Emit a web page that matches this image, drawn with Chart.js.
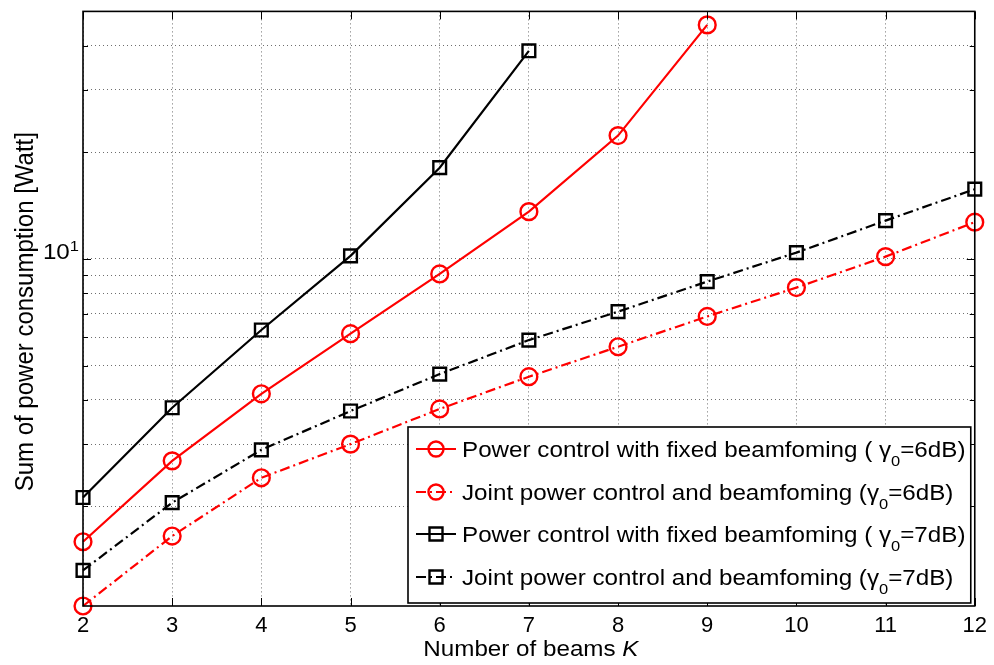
<!DOCTYPE html>
<html>
<head>
<meta charset="utf-8">
<script src="https://cdn.jsdelivr.net/npm/chart.js@4.4.0/dist/chart.umd.min.js"></script>
<style>
  html, body { margin: 0; padding: 0; background: #ffffff; }
  #wrap { width: 994px; height: 665px; }
</style>
</head>
<body>
<div id="wrap"><canvas id="chart" width="994" height="665"></canvas></div>
<script>
// Number of beams K (x axis)
const beams = [2, 3, 4, 5, 6, 7, 8, 9, 10, 11, 12];

// Sum of power consumption [Watt]
const fixedBeam6dB = [1.59, 2.69, 4.16, 6.15, 9.07, 13.6, 22.3, 45.8];
const jointBeam6dB = [1.047, 1.65, 2.41, 3.00, 3.77, 4.65, 5.65, 6.88, 8.30, 10.15, 12.7];
const fixedBeam7dB = [2.12, 3.80, 6.30, 10.2, 18.1, 38.7];
const jointBeam7dB = [1.32, 2.05, 2.89, 3.72, 4.73, 5.90, 7.10, 8.63, 10.42, 12.83, 15.74];

// Legend texts ("_" marks a one-character subscript)
const seriesLabels = [
  'Power control with fixed beamfoming ( \u03b3_0=6dB)',
  'Joint power control and beamfoming (\u03b3_0=6dB)',
  'Power control with fixed beamfoming ( \u03b3_0=7dB)',
  'Joint power control and beamfoming (\u03b3_0=7dB)'
];

// Log-scale grid values and y range
const yGridValues = [2, 3, 4, 5, 6, 7, 8, 9, 10, 20, 30, 40];
const yMin = 1.047;
const yMax = 50;

const FONT = '"Liberation Sans", Arial, Helvetica, sans-serif';
const STRETCH = 1.1;
const RED = '#ff0000';
const BLACK = '#000000';
const DASH_DOT = [10, 4, 2, 4];

function toPoints(values) {
  return values.map((v, i) => ({ x: beams[i], y: v }));
}

function series(label, values, color, style, dashed) {
  return {
    label: label,
    data: toPoints(values),
    borderColor: color,
    borderWidth: 2.2,
    borderDash: dashed ? DASH_DOT : [],
    pointStyle: style,
    pointRadius: style === 'rect' ? 9 : 8.4,
    pointHoverRadius: style === 'rect' ? 9 : 8.4,
    pointBorderWidth: 2.4,
    pointBorderColor: color,
    pointBackgroundColor: 'rgba(0,0,0,0)',
    fill: false,
    tension: 0,
    clip: false
  };
}

const datasets = [
  series(seriesLabels[0], fixedBeam6dB, RED, 'circle', false),
  series(seriesLabels[1], jointBeam6dB, RED, 'circle', true),
  series(seriesLabels[2], fixedBeam7dB, BLACK, 'rect', false),
  series(seriesLabels[3], jointBeam7dB, BLACK, 'rect', true)
];

// Split "abc_0def" into normal / subscript runs
function richParts(str) {
  const chunks = str.split('_');
  const parts = [{ t: chunks[0], kind: 'n' }];
  for (let i = 1; i < chunks.length; i++) {
    parts.push({ t: chunks[i].charAt(0), kind: 'sub' });
    if (chunks[i].length > 1) parts.push({ t: chunks[i].slice(1), kind: 'n' });
  }
  return parts;
}

function partFont(p, size) {
  if (p.kind === 'sub' || p.kind === 'sup') return Math.round(size * 0.7) + 'px ' + FONT;
  if (p.kind === 'it') return 'italic ' + size + 'px ' + FONT;
  return size + 'px ' + FONT;
}

function partsWidth(ctx, parts, size) {
  let w = 0;
  parts.forEach(p => { ctx.font = partFont(p, size); w += ctx.measureText(p.t).width; });
  return w;
}

// Draws runs of text on a baseline, horizontally stretched
function drawParts(ctx, parts, x, y, size, align) {
  const w = partsWidth(ctx, parts, size) * STRETCH;
  let x0 = x;
  if (align === 'center') x0 = x - w / 2;
  else if (align === 'right') x0 = x - w;
  ctx.save();
  ctx.translate(x0, y);
  ctx.scale(STRETCH, 1);
  ctx.textBaseline = 'alphabetic';
  ctx.textAlign = 'left';
  let cx = 0;
  parts.forEach(p => {
    ctx.font = partFont(p, size);
    let dy = 0;
    if (p.kind === 'sub') dy = size * 0.42;
    if (p.kind === 'sup') dy = -size * 0.38;
    ctx.fillText(p.t, cx, dy);
    cx += ctx.measureText(p.t).width;
  });
  ctx.restore();
}

function strokeLine(ctx, x1, y1, x2, y2) {
  ctx.beginPath();
  ctx.moveTo(x1, y1);
  ctx.lineTo(x2, y2);
  ctx.stroke();
}

const decorations = {
  id: 'decorations',
  afterDraw(chart) {
    const ctx = chart.ctx;
    const a = chart.chartArea;
    const xs = chart.scales.x;
    const ys = chart.scales.y;
    ctx.save();
    ctx.fillStyle = BLACK;
    ctx.strokeStyle = BLACK;

    // inward tick marks on all four sides
    ctx.lineWidth = 1;
    beams.forEach(v => {
      const px = Math.round(xs.getPixelForValue(v)) + 0.5;
      strokeLine(ctx, px, a.bottom, px, a.bottom - 8);
      strokeLine(ctx, px, a.top, px, a.top + 8);
    });
    yGridValues.forEach(v => {
      const py = Math.round(ys.getPixelForValue(v)) + 0.5;
      const len = v === 10 ? 8 : 5;
      strokeLine(ctx, a.left, py, a.left + len, py);
      strokeLine(ctx, a.right, py, a.right - len, py);
    });

    // axes box
    ctx.lineWidth = 1.6;
    ctx.strokeRect(a.left, a.top, a.right - a.left, a.bottom - a.top);

    // decade label on the log axis
    const p10 = ys.getPixelForValue(10);
    drawParts(ctx, [{ t: '10', kind: 'n' }, { t: '1', kind: 'sup' }], a.left - 4, p10 + 0.5, 22, 'right');

    // axis titles
    drawParts(ctx, [{ t: 'Number of beams ', kind: 'n' }, { t: 'K', kind: 'it' }],
      (a.left + a.right) / 2 + 2, 656, 22, 'center');

    ctx.save();
    ctx.translate(33, (a.top + a.bottom) / 2 + 3);
    ctx.scale(STRETCH, 1);
    ctx.rotate(-Math.PI / 2);
    ctx.font = '24px ' + FONT;
    ctx.textAlign = 'center';
    ctx.textBaseline = 'alphabetic';
    ctx.fillText('Sum of power consumption [Watt]', 0, 0);
    ctx.restore();

    // legend
    const lx = 408, ly = 427, lw = a.right - 4 - lx, lh = 176;
    ctx.fillStyle = '#ffffff';
    ctx.fillRect(lx, ly, lw, lh);
    ctx.lineWidth = 1.6;
    ctx.strokeStyle = BLACK;
    ctx.strokeRect(lx, ly, lw, lh);
    const rowY = [449, 492, 534, 577];
    chart.data.datasets.forEach((ds, i) => {
      const cy = rowY[i];
      ctx.save();
      ctx.strokeStyle = ds.borderColor;
      ctx.lineWidth = 2.2;
      ctx.setLineDash(ds.borderDash || []);
      strokeLine(ctx, lx + 8, cy, lx + 48, cy);
      ctx.setLineDash([]);
      ctx.lineWidth = 2.4;
      ctx.beginPath();
      if (ds.pointStyle === 'circle') {
        ctx.arc(lx + 28, cy, 7.5, 0, Math.PI * 2);
      } else {
        ctx.rect(lx + 28 - 6.5, cy - 6.5, 13, 13);
      }
      ctx.stroke();
      ctx.restore();
      ctx.fillStyle = BLACK;
      drawParts(ctx, richParts(ds.label), lx + 54, cy + 8, 22, 'left');
    });

    ctx.restore();
  }
};

new Chart(document.getElementById('chart'), {
  type: 'line',
  data: { datasets: datasets },
  plugins: [decorations],
  options: {
    responsive: false,
    animation: false,
    events: [],
    layout: { padding: { left: 0, right: 8, top: 11, bottom: 0 } },
    plugins: {
      legend: { display: false },
      tooltip: { enabled: false },
      title: { display: false }
    },
    scales: {
      x: {
        type: 'linear',
        min: beams[0],
        max: beams[beams.length - 1],
        afterBuildTicks: s => { s.ticks = beams.map(v => ({ value: v })); },
        afterFit: s => { s.height = 59; },
        ticks: {
          autoSkip: false,
          maxRotation: 0,
          color: BLACK,
          padding: 7,
          font: { family: FONT, size: 22 }
        },
        grid: { color: '#6e6e6e', lineWidth: 1, drawTicks: false },
        border: { display: false, dash: [1, 3] }
      },
      y: {
        type: 'logarithmic',
        min: yMin,
        max: yMax,
        afterBuildTicks: s => { s.ticks = yGridValues.map(v => ({ value: v, major: v === 10 })); },
        afterFit: s => { s.width = 83; },
        ticks: { display: false },
        grid: { color: '#6e6e6e', lineWidth: 1, drawTicks: false },
        border: { display: false, dash: [1, 3] }
      }
    }
  }
});
</script>
</body>
</html>
